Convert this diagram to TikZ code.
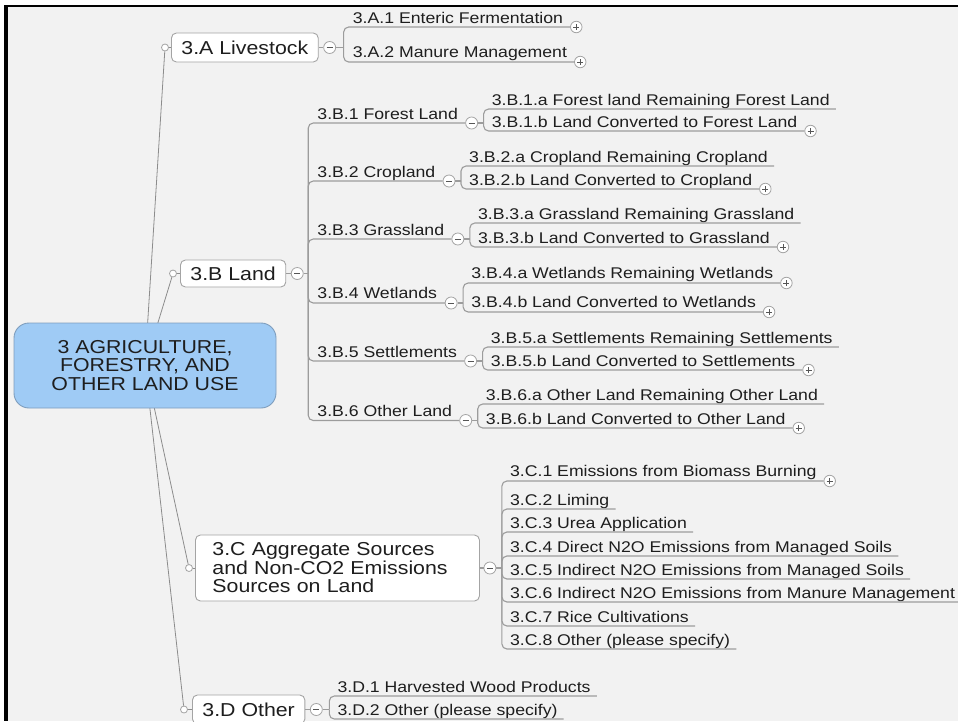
\documentclass[tikz,border=0pt]{standalone}
\usepackage{fontspec}
\setmainfont{Liberation Sans}[FakeStretch=1.14]
\usetikzlibrary{calc}
\definecolor{bg}{HTML}{F2F2F2}
\definecolor{ln}{HTML}{9C9C9C}
\definecolor{mainline}{HTML}{8C8C8C}
\definecolor{bx}{HTML}{A4A4A4}
\definecolor{rootfill}{HTML}{9FCBF5}
\definecolor{rootdraw}{HTML}{7E9DBD}
\definecolor{txt}{HTML}{1E1E1E}
\begin{document}
\begin{tikzpicture}[x=1pt,y=-1pt,
  small/.style={font=\fontsize{15.5}{17}\selectfont, text=txt, inner sep=0pt, anchor=base west},
  big/.style={font=\fontsize{18.7}{18.5}\selectfont, text=txt},
  lvlbox/.style={big, draw=bx, fill=white, rounded corners=5pt, line width=0.9pt, inner xsep=10pt, inner ysep=2pt, minimum height=29pt, anchor=west},
  rootbox/.style={big, align=center, draw=rootdraw, fill=rootfill, rounded corners=15pt, line width=0.9pt, minimum width=262pt, minimum height=85pt},
  conn/.style={draw=ln, line width=1.1pt, rounded corners=5pt},
  mainln/.style={draw=mainline, line width=0.8pt},
  dot/.style={circle, draw=bx, fill=white, line width=0.8pt, minimum size=7pt, inner sep=0pt},
  minus/.style={circle, draw=bx, fill=white, line width=0.8pt, minimum size=12pt, inner sep=0pt,
    path picture={\draw[line width=0.8pt, txt!75] ([xshift=-3pt]path picture bounding box.center) -- ([xshift=3pt]path picture bounding box.center);}},
  plus/.style={circle, draw=bx, fill=white, line width=0.8pt, minimum size=11.5pt, inner sep=0pt,
    path picture={\draw[line width=0.8pt, txt!75] ([xshift=-3pt]path picture bounding box.center) -- ([xshift=3pt]path picture bounding box.center)
      ([yshift=-3pt]path picture bounding box.center) -- ([yshift=3pt]path picture bounding box.center);}}
]
\useasboundingbox (0,0) rectangle (958,721);
\fill[white] (0,0) rectangle (958,721);
\fill[bg] (6,6) rectangle (958,721);

% ---------- level-1 boxes ----------
\node[lvlbox] (A) at (171,47.5) {3.A Livestock};
\node[lvlbox, minimum height=27pt] (B) at (180,273.5) {3.B Land};
\node[lvlbox, text width=250pt, align=left, inner xsep=17pt, minimum height=66pt] (C) at (195,568) {3.C Aggregate Sources\\and Non-CO2 Emissions\\Sources on Land};
\node[lvlbox] (D) at (192,709.5) {3.D Other};

\node[dot] (dA) at ($(A.west)+(-6,0)$) {};
\node[dot] (dB) at ($(B.west)+(-7,0)$) {};
\node[dot] (dC) at ($(C.west)+(-6,0)$) {};
\node[dot] (dD) at ($(D.west)+(-8,0)$) {};
\draw[mainln] (dA) -- (A);
\draw[mainln] (dB) -- (B);
\draw[mainln] (dC) -- (C);
\draw[mainln] (dD) -- (D);

% ---------- root ----------
\coordinate (rc) at (145,365);
\draw[mainln] (rc) -- (dA);
\draw[mainln] (rc) -- (dB);
\draw[mainln] (rc) -- (dC);
\draw[mainln] (rc) -- (dD);
\node[rootbox] (root) at (145,365.5) {3 AGRICULTURE,\\FORESTRY, AND\\OTHER LAND USE};

% ---------- 3.A ----------
\node[minus] (mA) at ($(A.east)+(11,0)$) {};
\draw[conn] (A) -- (mA);
\coordinate (jA) at ($(mA)+(14,0)$);
\draw[conn] (mA) -- (jA);
\node[small, xshift=9pt] (A1) at (jA |- 0,23) {3.A.1 Enteric Fermentation};
\node[plus] (pA1) at ($(A1.base east)+(13,4)$) {};
\draw[conn] (jA) |- (pA1);
\node[small, xshift=9pt] (A2) at (jA |- 0,57) {3.A.2 Manure Management};
\node[plus] (pA2) at ($(A2.base east)+(13,5)$) {};
\draw[conn] (jA) |- (pA2);

% ---------- 3.B ----------
\node[minus] (mB) at ($(B.east)+(11,0)$) {};
\draw[conn] (B) -- (mB);
\coordinate (jB) at ($(mB)+(11,0)$);
\draw[conn] (mB) -- (jB);

% 3.B.1
\node[small, xshift=9pt] (B1) at (jB |- 0,119) {3.B.1 Forest Land};
\node[minus] (mB1) at ($(B1.base east)+(13.5,4)$) {};
\draw[conn] (jB) |- (mB1);
\coordinate (jB1) at ($(mB1)+(12,0)$);
\draw[conn] (mB1) -- (jB1);
\node[small, xshift=8pt] (B1a) at (jB1 |- 0,105) {3.B.1.a Forest land Remaining Forest Land};
\draw[conn] (jB1) |- ($(B1a.base east)+(6,4)$);
\node[small, xshift=8pt] (B1b) at (jB1 |- 0,127) {3.B.1.b Land Converted to Forest Land};
\node[plus] (pB1b) at ($(B1b.base east)+(13,4)$) {};
\draw[conn] (jB1) |- (pB1b);

% 3.B.2
\node[small, xshift=9pt] (B2) at (jB |- 0,177) {3.B.2 Cropland};
\node[minus] (mB2) at ($(B2.base east)+(13.5,4)$) {};
\draw[conn] (jB) |- (mB2);
\coordinate (jB2) at ($(mB2)+(12,0)$);
\draw[conn] (mB2) -- (jB2);
\node[small, xshift=8pt] (B2a) at (jB2 |- 0,162) {3.B.2.a Cropland Remaining Cropland};
\draw[conn] (jB2) |- ($(B2a.base east)+(6,4)$);
\node[small, xshift=8pt] (B2b) at (jB2 |- 0,185) {3.B.2.b Land Converted to Cropland};
\node[plus] (pB2b) at ($(B2b.base east)+(13,4)$) {};
\draw[conn] (jB2) |- (pB2b);

% 3.B.3
\node[small, xshift=9pt] (B3) at (jB |- 0,235) {3.B.3 Grassland};
\node[minus] (mB3) at ($(B3.base east)+(13.5,4)$) {};
\draw[conn] (jB) |- (mB3);
\coordinate (jB3) at ($(mB3)+(12,0)$);
\draw[conn] (mB3) -- (jB3);
\node[small, xshift=8pt] (B3a) at (jB3 |- 0,219) {3.B.3.a Grassland Remaining Grassland};
\draw[conn] (jB3) |- ($(B3a.base east)+(6,4)$);
\node[small, xshift=8pt] (B3b) at (jB3 |- 0,243) {3.B.3.b Land Converted to Grassland};
\node[plus] (pB3b) at ($(B3b.base east)+(13,4)$) {};
\draw[conn] (jB3) |- (pB3b);

% 3.B.4
\node[small, xshift=9pt] (B4) at (jB |- 0,298) {3.B.4 Wetlands};
\node[minus] (mB4) at ($(B4.base east)+(14,5)$) {};
\draw[conn] (jB) |- (mB4);
\coordinate (jB4) at ($(mB4)+(12,0)$);
\draw[conn] (mB4) -- (jB4);
\node[small, xshift=8pt] (B4a) at (jB4 |- 0,278) {3.B.4.a Wetlands Remaining Wetlands};
\node[plus] (pB4a) at ($(B4a.base east)+(13,5)$) {};
\draw[conn] (jB4) |- (pB4a);
\node[small, xshift=8pt] (B4b) at (jB4 |- 0,307) {3.B.4.b Land Converted to Wetlands};
\node[plus] (pB4b) at ($(B4b.base east)+(13,5)$) {};
\draw[conn] (jB4) |- (pB4b);

% 3.B.5
\node[small, xshift=9pt] (B5) at (jB |- 0,357) {3.B.5 Settlements};
\node[minus] (mB5) at ($(B5.base east)+(13.5,4)$) {};
\draw[conn] (jB) |- (mB5);
\coordinate (jB5) at ($(mB5)+(12,0)$);
\draw[conn] (mB5) -- (jB5);
\node[small, xshift=8pt] (B5a) at (jB5 |- 0,343) {3.B.5.a Settlements Remaining Settlements};
\draw[conn] (jB5) |- ($(B5a.base east)+(6,4)$);
\node[small, xshift=8pt] (B5b) at (jB5 |- 0,366) {3.B.5.b Land Converted to Settlements};
\node[plus] (pB5b) at ($(B5b.base east)+(13,4)$) {};
\draw[conn] (jB5) |- (pB5b);

% 3.B.6
\node[small, xshift=9pt] (B6) at (jB |- 0,416) {3.B.6 Other Land};
\node[minus] (mB6) at ($(B6.base east)+(13.5,4.5)$) {};
\draw[conn] (jB) |- (mB6);
\coordinate (jB6) at ($(mB6)+(12,0)$);
\draw[conn] (mB6) -- (jB6);
\node[small, xshift=8pt] (B6a) at (jB6 |- 0,400) {3.B.6.a Other Land Remaining Other Land};
\draw[conn] (jB6) |- ($(B6a.base east)+(6,4)$);
\node[small, xshift=8pt] (B6b) at (jB6 |- 0,424) {3.B.6.b Land Converted to Other Land};
\node[plus] (pB6b) at ($(B6b.base east)+(13,4)$) {};
\draw[conn] (jB6) |- (pB6b);

% ---------- 3.C ----------
\node[minus] (mC) at ($(C.east)+(10,0)$) {};
\draw[conn] (C) -- (mC);
\coordinate (jC) at ($(mC)+(12,0)$);
\draw[conn] (mC) -- (jC);
\node[small, xshift=8pt] (C1) at (jC |- 0,476) {3.C.1 Emissions from Biomass Burning};
\node[plus] (pC1) at ($(C1.base east)+(13,5)$) {};
\draw[conn] (jC) |- (pC1);
\node[small, xshift=8pt] (C2) at (jC |- 0,505) {3.C.2 Liming};
\draw[conn] (jC) |- ($(C2.base east)+(6,4)$);
\node[small, xshift=8pt] (C3) at (jC |- 0,528) {3.C.3 Urea Application};
\draw[conn] (jC) |- ($(C3.base east)+(6,4)$);
\node[small, xshift=8pt] (C4) at (jC |- 0,552) {3.C.4 Direct N2O Emissions from Managed Soils};
\draw[conn] (jC) |- ($(C4.base east)+(6,4)$);
\node[small, xshift=8pt] (C5) at (jC |- 0,575) {3.C.5 Indirect N2O Emissions from Managed Soils};
\draw[conn] (jC) |- ($(C5.base east)+(6,4)$);
\node[small, xshift=8pt] (C6) at (jC |- 0,598) {3.C.6 Indirect N2O Emissions from Manure Management};
\draw[conn] (jC) |- ($(C6.base east)+(6,4)$);
\node[small, xshift=8pt] (C7) at (jC |- 0,622) {3.C.7 Rice Cultivations};
\draw[conn] (jC) |- ($(C7.base east)+(6,4)$);
\node[small, xshift=8pt] (C8) at (jC |- 0,645) {3.C.8 Other (please specify)};
\draw[conn] (jC) |- ($(C8.base east)+(6,4)$);

% ---------- 3.D ----------
\node[minus] (mD) at ($(D.east)+(11,0)$) {};
\draw[conn] (D) -- (mD);
\coordinate (jD) at ($(mD)+(13,0)$);
\draw[conn] (mD) -- (jD);
\node[small, xshift=8pt] (D1) at (jD |- 0,692) {3.D.1 Harvested Wood Products};
\draw[conn] (jD) |- ($(D1.base east)+(6,4)$);
\node[small, xshift=8pt] (D2) at (jD |- 0,715) {3.D.2 Other (please specify)};
\draw[conn] (jD) |- ($(D2.base east)+(6,4)$);

% ---------- frame ----------
\draw[line width=2.5pt] (4,6) -- (958,6);
\draw[line width=4pt] (6,5) -- (6,721);
\end{tikzpicture}
\end{document}
